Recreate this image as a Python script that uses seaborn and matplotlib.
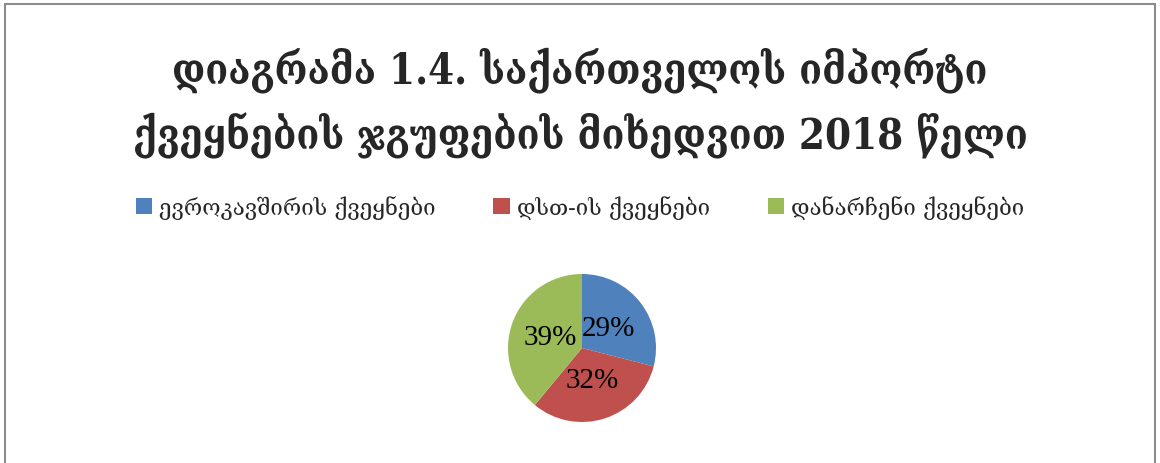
import matplotlib
matplotlib.use("Agg")
import matplotlib.pyplot as plt
import seaborn as sns
from matplotlib.patches import Rectangle, Patch

sns.set_theme(style="white")
plt.rcParams['font.family'] = ['DejaVu Serif', 'DejaVu Sans']

title = "დიაგრამა 1.4. საქართველოს იმპორტი\nქვეყნების ჯგუფების მიხედვით 2018 წელი"
groups = ["ევროკავშირის ქვეყნები", "დსთ-ის ქვეყნები", "დანარჩენი ქვეყნები"]
shares = [29, 32, 39]
colors = ["#4F81BD", "#C0504D", "#9BBB59"]

fig = plt.figure(figsize=(11.6, 4.64), dpi=100)
fig.patch.set_facecolor("white")

# chart frame
fig.add_artist(Rectangle((5 / 1160, -0.1), 1150 / 1160, 1.1 - 5 / 464,
                         transform=fig.transFigure, fill=False,
                         edgecolor="#8c8c8c", linewidth=1.5))

fig.text(0.5, 1 - 103 / 464, title, ha="center", va="center", fontsize=30,
         fontweight="bold", fontstretch="condensed", linespacing=1.55)

r = 74
ax = fig.add_axes([(582 - r) / 1160, (464 - 349 - r) / 464, 2 * r / 1160, 2 * r / 464])
wedges, texts, autotexts = ax.pie(
    shares, colors=colors, startangle=90, counterclock=False,
    autopct="%.0f%%", pctdistance=0.45,
    wedgeprops=dict(linewidth=0),
    textprops=dict(fontsize=21, family="Liberation Serif", color="black"))
ax.set_xlim(-1, 1)
ax.set_ylim(-1, 1)
ax.set_aspect("equal")

handles = [Patch(facecolor=c, edgecolor="none") for c in colors]
fig.legend(handles, groups, loc="center", bbox_to_anchor=(0.5, 1 - 208 / 464),
           ncol=3, frameon=False, fontsize=16, handlelength=0.75, handleheight=0.75,
           handletextpad=0.3, columnspacing=2.6)

fig.savefig("out.png", dpi=100, facecolor="white")
